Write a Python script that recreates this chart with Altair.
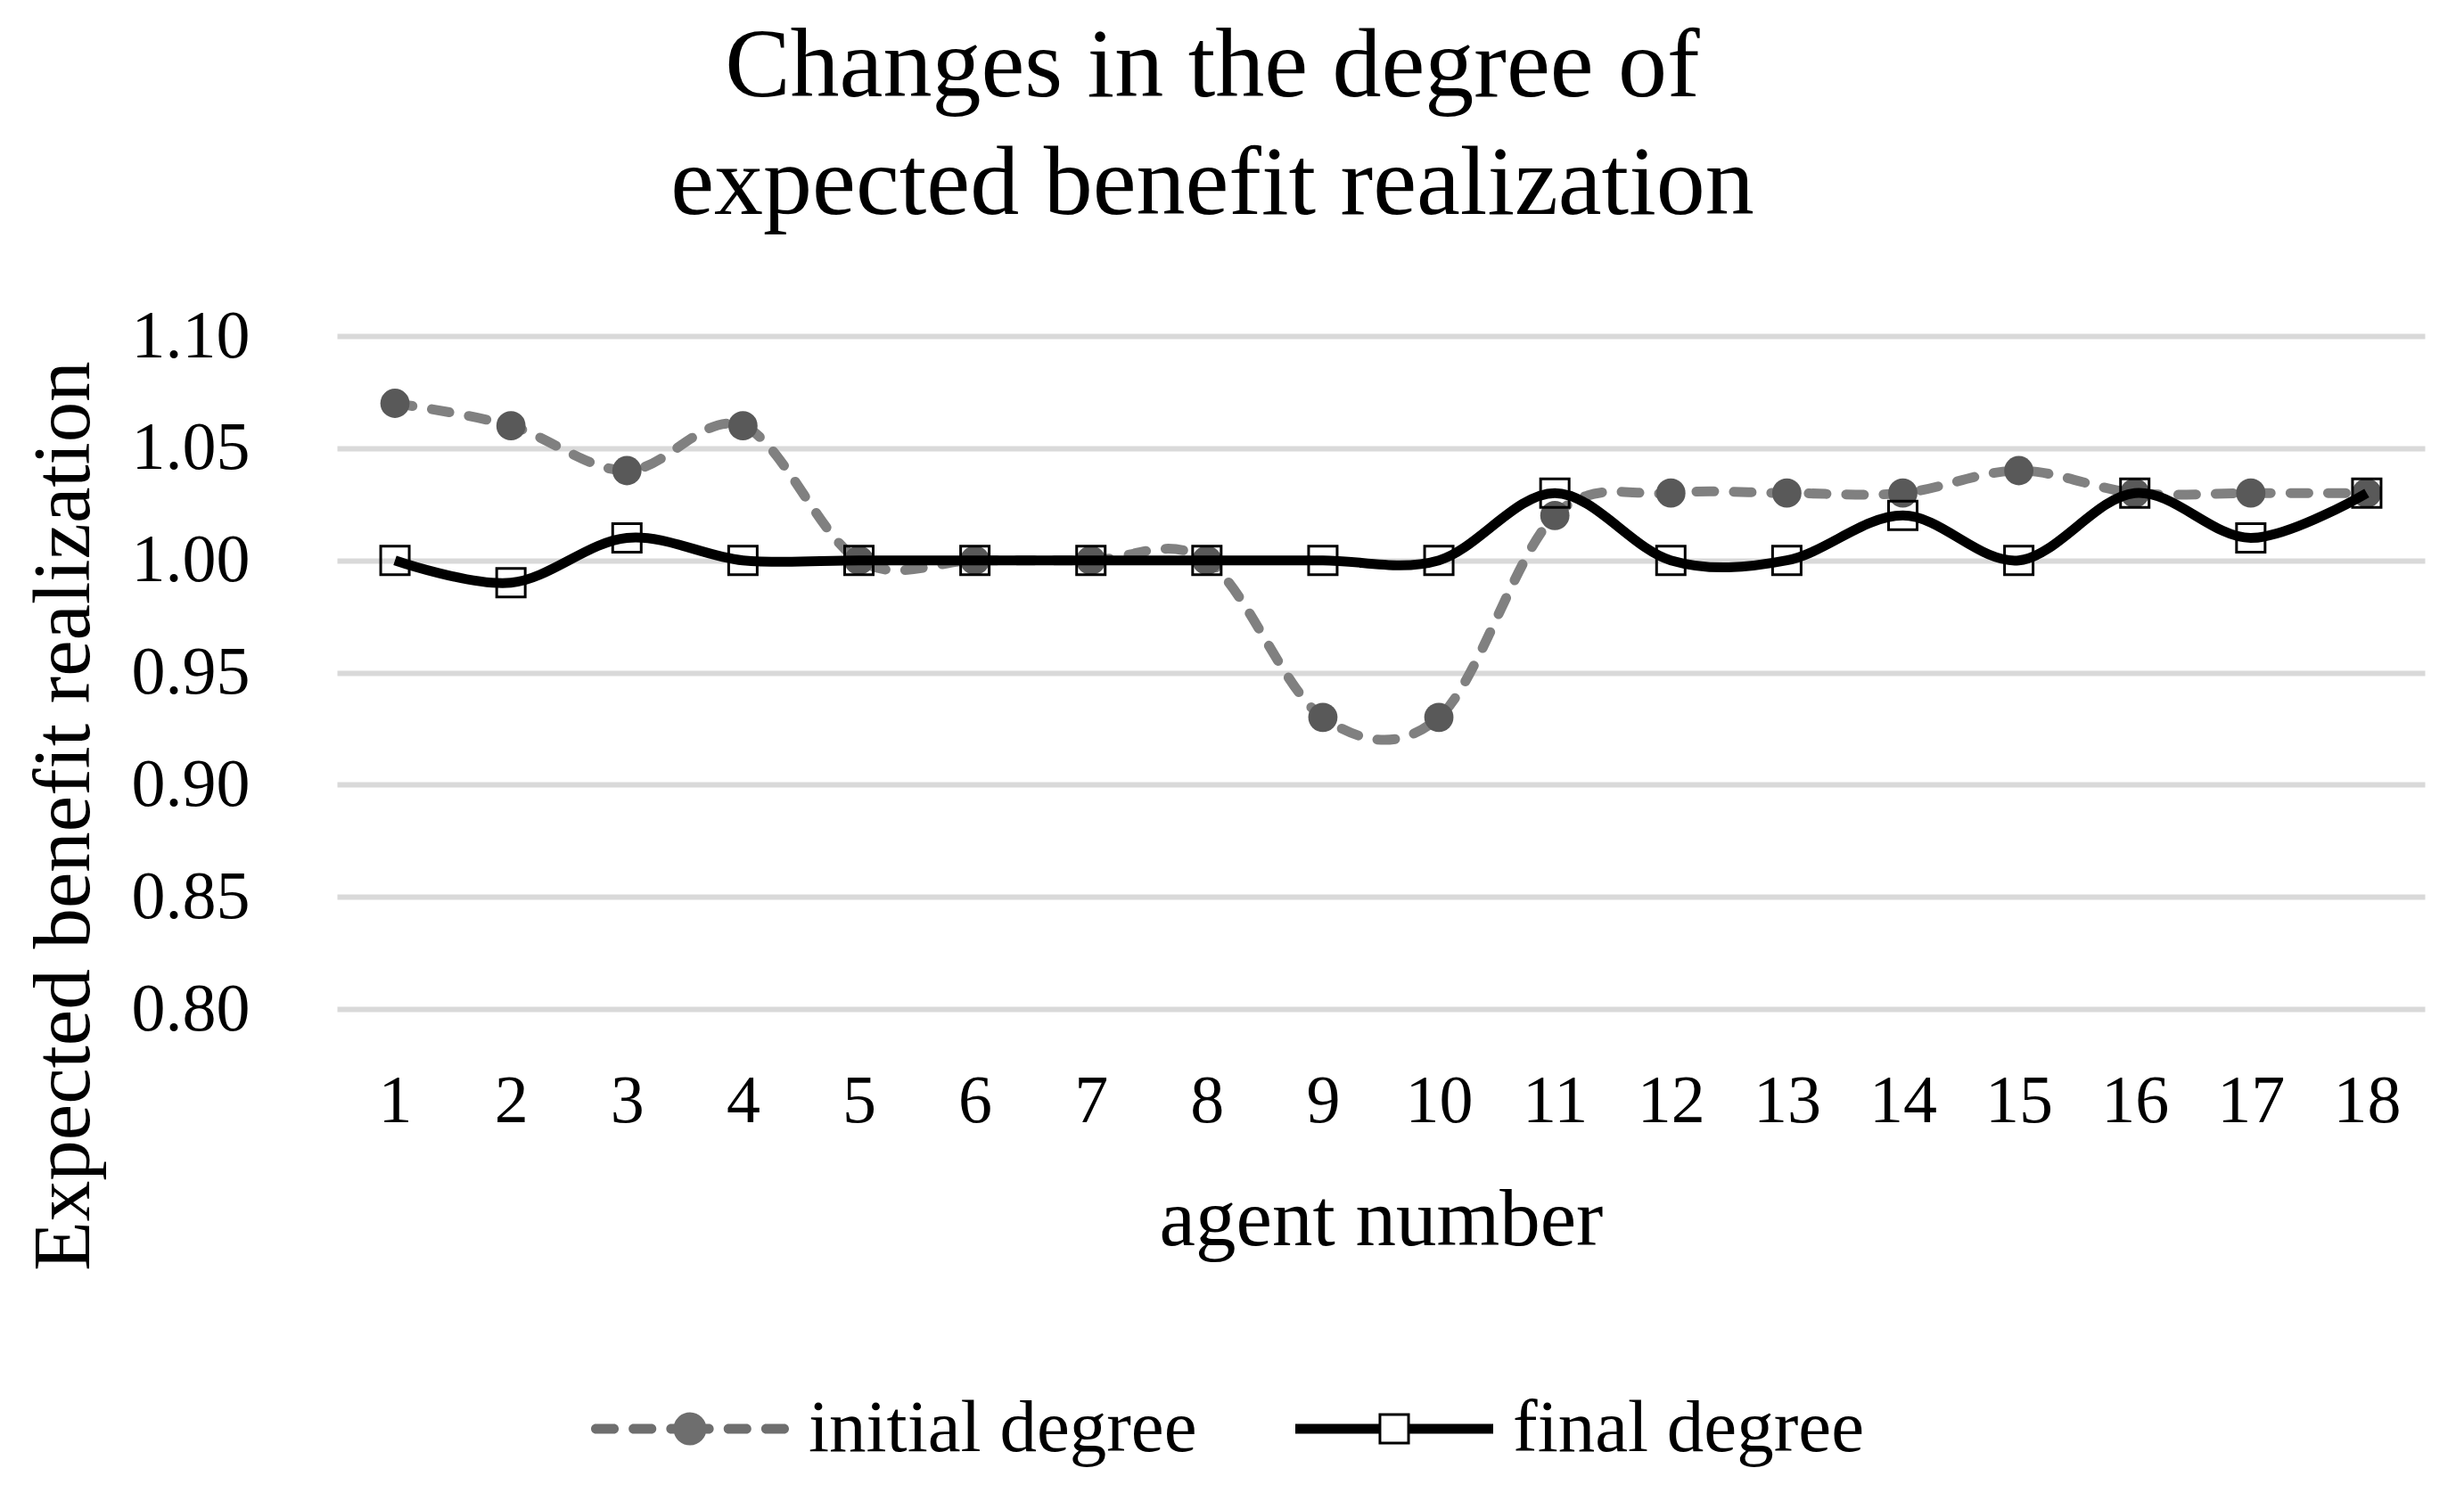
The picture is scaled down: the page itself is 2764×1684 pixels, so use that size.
import altair as alt
import pandas as pd

# ---- data ----
AGENTS = list(range(1, 19))
INITIAL = [1.07, 1.06, 1.04, 1.06, 1.00, 1.00, 1.00, 1.00, 0.93,
           0.93, 1.02, 1.03, 1.03, 1.03, 1.04, 1.03, 1.03, 1.03]
FINAL = [1.00, 0.99, 1.01, 1.00, 1.00, 1.00, 1.00, 1.00, 1.00,
         1.00, 1.03, 1.00, 1.00, 1.02, 1.00, 1.03, 1.01, 1.03]
SERIES = ["initial degree", "final degree"]
Y_TICKS = [0.80, 0.85, 0.90, 0.95, 1.00, 1.05, 1.10]
X_TICKS = AGENTS
TITLE = ["Changes in the degree of", "expected benefit realization"]
X_TITLE = "agent number"
Y_TITLE = "Expected benefit realization"

df = pd.DataFrame({
    "agent": AGENTS + AGENTS,
    "value": INITIAL + FINAL,
    "series": [SERIES[0]] * len(AGENTS) + [SERIES[1]] * len(AGENTS),
})

FONT = "Liberation Serif"
W, H = 2342, 755


def arc_dash(a, b, h):
    return (f"M{a + h:.4f},{-h:.4f}H{b - h:.4f}"
            f"A{h:.4f},{h:.4f} 0 0 1 {b - h:.4f},{h:.4f}"
            f"H{a + h:.4f}A{h:.4f},{h:.4f} 0 0 1 {a + h:.4f},{-h:.4f}Z")


def circle(r):
    return (f"M{-r:.4f},0A{r:.4f},{r:.4f} 0 0 1 {r:.4f},0"
            f"A{r:.4f},{r:.4f} 0 0 1 {-r:.4f},0Z")


# legend symbols (unit coords, scaled by sqrt(size)/2)
h = 0.0495
segs = [(-1.0, -0.72), (-0.62, -0.34), (-0.24, -0.05)]
initial_sym = "".join(arc_dash(a, b, h) for a, b in segs)
initial_sym += "".join(arc_dash(-b, -a, h) for a, b in segs)
initial_sym += circle(0.167)

o, i = 0.158, 0.131
final_sym = (f"M-1,{-h}H{-o}V{h}H-1Z"
             f"M{o},{-h}H1V{h}H{o}Z"
             f"M{-o},{-o}H{o}V{o}H{-o}Z"
             f"M{-i},{-i}V{i}H{i}V{-i}Z")

x_enc = alt.X(
    "agent:Q",
    scale=alt.Scale(domain=[0.5, 18.5], nice=False, zero=False),
    axis=alt.Axis(values=X_TICKS, format="d", title=X_TITLE, grid=False,
                  domain=False, ticks=False, labelPadding=66,
                  titleY=264, titleBaseline="alphabetic", titleLimit=3000),
)
y_enc = alt.Y(
    "value:Q",
    scale=alt.Scale(domain=[0.80, 1.10], nice=False, zero=False),
    axis=alt.Axis(values=Y_TICKS, format=".2f", title=Y_TITLE, grid=True,
                  domain=False, ticks=False, labelPadding=98,
                  titleX=-306, titleY=538, titleAngle=270,
                  titleAlign="center", titleBaseline="middle",
                  titleLimit=3000),
)

base = alt.Chart(df).encode(x=x_enc, y=y_enc)
init = base.transform_filter(alt.datum.series == SERIES[0])
fin = base.transform_filter(alt.datum.series == SERIES[1])

init_line = init.mark_line(interpolate="cardinal", color="#808080",
                           strokeWidth=11, strokeDash=[20, 22],
                           strokeCap="round")
init_pts = init.mark_point(shape="circle", filled=True, size=1075,
                           color="#595959", opacity=1)
fin_line = fin.mark_line(interpolate="cardinal", color="#000000",
                         strokeWidth=11)
fin_pts = fin.mark_point(shape="square", filled=False, size=1024,
                         color="#000000", strokeWidth=3, opacity=1)

leg = alt.Legend(title=None, orient="none", legendX=285, legendY=1115,
                 direction="horizontal", symbolSize=49284,
                 symbolStrokeWidth=0, symbolOpacity=1, labelFont=FONT,
                 labelFontSize=83, labelColor="#000000", labelLimit=0,
                 labelOffset=22, columnPadding=110, padding=0)

legend_layer = base.mark_point(filled=True, opacity=0).encode(
    color=alt.Color("series:N",
                    scale=alt.Scale(domain=SERIES, range=["#6e6e6e", "#000000"]),
                    legend=leg),
    shape=alt.Shape("series:N",
                    scale=alt.Scale(domain=SERIES, range=[initial_sym, final_sym]),
                    legend=leg),
)

chart = alt.layer(init_line, init_pts, fin_line, fin_pts, legend_layer).properties(
    width=W,
    height=H,
    background="white",
    title=alt.TitleParams(text=TITLE, font=FONT, fontSize=110,
                          fontWeight="normal", color="#000000",
                          anchor="middle", frame="group", dx=-189,
                          offset=76, lineHeight=132),
    autosize=alt.AutoSizeParams(type="none"),
    padding={"left": 370, "top": 369, "right": 36, "bottom": 520},
).configure_view(stroke=None).configure_axis(
    labelFont=FONT, labelFontSize=76, labelColor="#000000",
    titleFont=FONT, titleFontSize=91, titleFontWeight="normal",
    titleColor="#000000", gridColor="#d9d9d9", gridWidth=6,
)

chart.save("out.html", embed_options={"renderer": "svg", "actions": False})
